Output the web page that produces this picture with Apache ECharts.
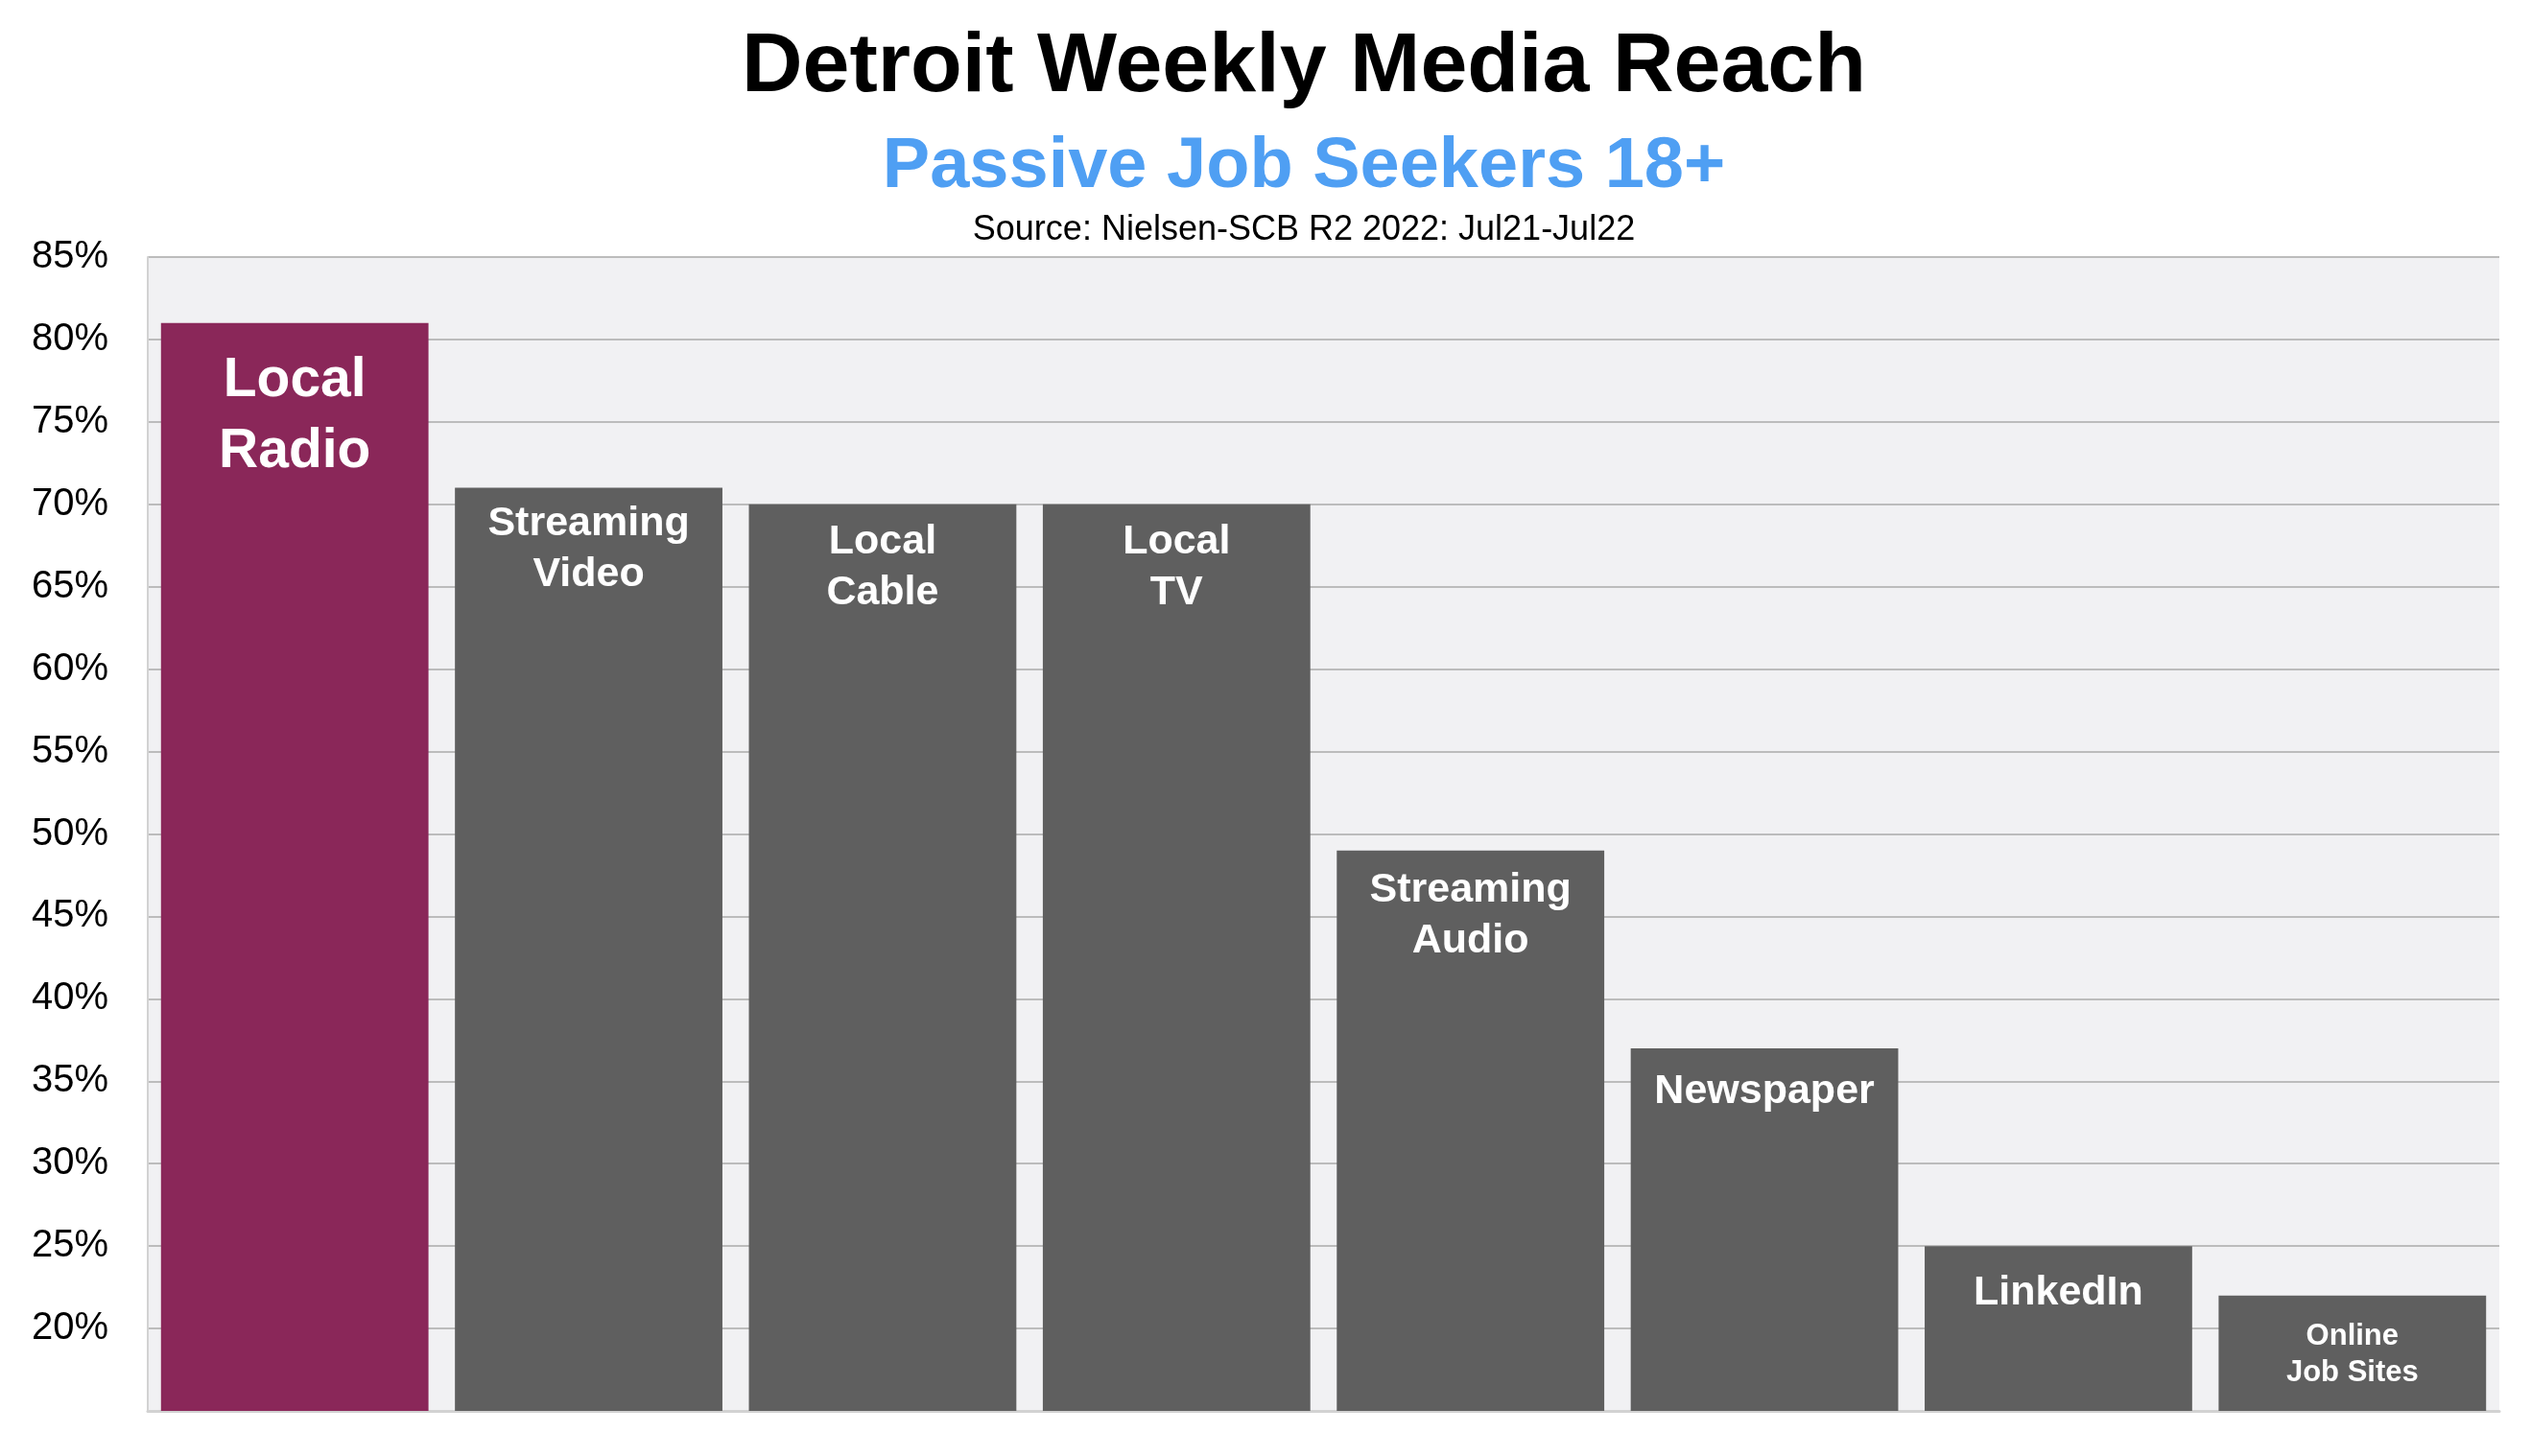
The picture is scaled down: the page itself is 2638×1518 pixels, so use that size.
<!DOCTYPE html>
<html>
<head>
<meta charset="utf-8">
<script src="https://cdn.jsdelivr.net/npm/echarts@6.0.0/dist/echarts.min.js"></script>
<style>
  html, body { margin: 0; padding: 0; background: #fff; }
  #chart { width: 2638px; height: 1518px; }
</style>
</head>
<body>
<div id="chart"></div>
<script>
// data
const categories = ['Local\nRadio', 'Streaming\nVideo', 'Local\nCable', 'Local\nTV', 'Streaming\nAudio', 'Newspaper', 'LinkedIn', 'Online\nJob Sites'];
const reach = [81, 71, 70, 70, 49, 37, 25, 22];
const yMin = 15;
const yMax = 85;
const yStep = 5;

const font = '"Liberation Sans", Arial, Helvetica, sans-serif';

// label looks per bar (first one bigger, last one smaller)
const labelStyle = i => {
  if (i === 0) return { fontSize: 57, lineHeight: 74, distance: 24 };
  if (i === categories.length - 1) return { fontSize: 31, lineHeight: 38, distance: 24 };
  if (i === 5) return { fontSize: 43, lineHeight: 53, distance: 19 };
  if (i === 6) return { fontSize: 43, lineHeight: 53, distance: 22 };
  if (i === 4) return { fontSize: 43, lineHeight: 53, distance: 15 };
  if (i === 1) return { fontSize: 43, lineHeight: 53, distance: 11 };
  return { fontSize: 43, lineHeight: 53, distance: 13 };
};

let myChart = echarts.init(document.getElementById('chart'));
let option;

option = {
  backgroundColor: '#ffffff',
  animation: false,
  title: [
    {
      text: 'Detroit Weekly Media Reach',
      left: 1359, top: 27, textAlign: 'center', padding: 0,
      textStyle: { fontFamily: font, fontSize: 88, fontWeight: 'bold', color: '#000', lineHeight: 88 }
    },
    {
      text: 'Passive Job Seekers 18+',
      left: 1359, top: 138, textAlign: 'center', padding: 0,
      textStyle: { fontFamily: font, fontSize: 74, fontWeight: 'bold', color: '#4f9ff3', lineHeight: 74 }
    },
    {
      text: 'Source: Nielsen-SCB R2 2022: Jul21-Jul22',
      left: 1359, top: 222, textAlign: 'center', padding: 0,
      textStyle: { fontFamily: font, fontSize: 36, fontWeight: 'normal', color: '#000', lineHeight: 36 }
    }
  ],
  grid: {
    left: 154, right: 33, top: 268, bottom: 47,
    show: true, backgroundColor: '#f1f1f3', borderWidth: 0
  },
  xAxis: {
    type: 'category',
    data: categories,
    axisLine: { show: true, lineStyle: { color: '#d2d2d2', width: 3 } },
    axisTick: { show: false },
    axisLabel: { show: false }
  },
  yAxis: {
    type: 'value',
    min: yMin, max: yMax, interval: yStep,
    axisLine: { show: true, lineStyle: { color: '#d2d2d2', width: 2 } },
    axisTick: { show: false },
    splitLine: { show: true, lineStyle: { color: '#bcbcbc', width: 2 } },
    axisLabel: {
      margin: 41,
      fontFamily: font, fontSize: 40, color: '#000',
      formatter: v => (v === yMin ? '' : v + '%')
    }
  },
  series: [
    {
      type: 'bar',
      barCategoryGap: '9%',
      data: reach.map((v, i) => {
        const s = labelStyle(i);
        return {
          value: v,
          itemStyle: { color: i === 0 ? '#8a2759' : '#5f5f5f' },
          label: {
            show: true,
            position: 'insideTop',
            distance: s.distance,
            formatter: '{b}',
            color: '#fff',
            fontFamily: font,
            fontWeight: 'bold',
            fontSize: s.fontSize,
            lineHeight: s.lineHeight,
            align: 'center'
          }
        };
      })
    }
  ]
};

option && myChart.setOption(option);
</script>
</body>
</html>
